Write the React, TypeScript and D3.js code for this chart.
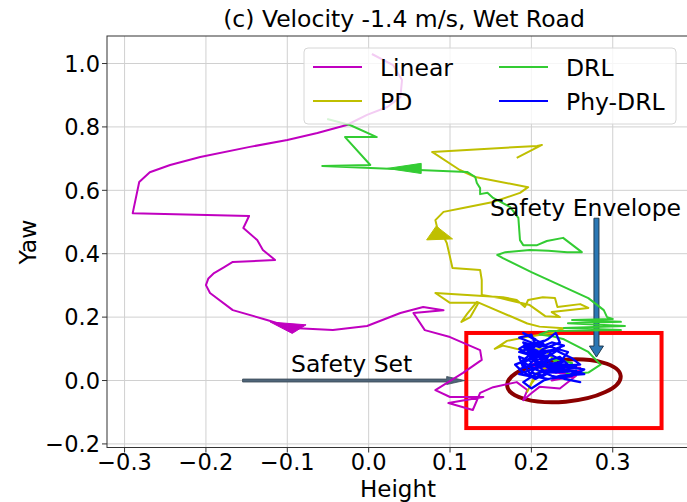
import React from "react";
import * as d3 from "d3";

type Pt = [number, number];

const W = 687;
const H = 502;
const plot = { left: 107, top: 36, right: 688, bottom: 447.5 };

const xTicks = [-0.3, -0.2, -0.1, 0.0, 0.1, 0.2, 0.3];
const xTickLabels = ["\u22120.3", "\u22120.2", "\u22120.1", "0.0", "0.1", "0.2", "0.3"];
const yTicks = [-0.2, 0.0, 0.2, 0.4, 0.6, 0.8, 1.0];
const yTickLabels = ["\u22120.2", "0.0", "0.2", "0.4", "0.6", "0.8", "1.0"];

// trajectories (height, yaw), in time order from the initial state
const linear: Pt[] = [
  [0.22, 0.07], [0.2, 0.05], [0.26, 0.04], [0.21, 0.03], [0.25, 0.02], [0.2, 0.045],
  [0.26, 0.03], [0.225, 0.0], [0.255, 0.015], [0.235, -0.025], [0.21, -0.02], [0.2, -0.04],
  [0.19, -0.062], [0.195, -0.03], [0.182, -0.005],
  [0.153, -0.021], [0.137, -0.039], [0.128, -0.093], [0.098, -0.071], [0.141, -0.052], [0.1, -0.052],
  [0.082, -0.03], [0.116, 0.024], [0.139, 0.065], [0.137, 0.096], [0.1, 0.137], [0.069, 0.159],
  [0.055, 0.213], [0.092, 0.222], [0.067, 0.232], [0.039, 0.213], [-0.002, 0.172], [-0.044, 0.159],
  [-0.093, 0.166], [-0.125, 0.191], [-0.167, 0.222], [-0.195, 0.276], [-0.2, 0.301], [-0.197, 0.322],
  [-0.19, 0.339], [-0.178, 0.357], [-0.167, 0.374], [-0.115, 0.38], [-0.13, 0.412], [-0.137, 0.443],
  [-0.154, 0.481], [-0.147, 0.519], [-0.29, 0.528], [-0.282, 0.626], [-0.269, 0.657], [-0.244, 0.68],
  [-0.207, 0.705], [-0.146, 0.737], [-0.1, 0.759], [-0.063, 0.781], [-0.027, 0.806], [-0.002, 0.838],
  [0.023, 0.863], [0.039, 0.894], [0.041, 0.948], [0.03, 0.995], [0.004, 1.03],
];

const pd: Pt[] = [
  [0.215, 0.04], [0.2, -0.01], [0.195, -0.035], [0.205, 0.02], [0.23, 0.06], [0.215, 0.1],
  [0.19, 0.095], [0.165, 0.11], [0.155, 0.1], [0.17, 0.125], [0.2, 0.14], [0.225, 0.15],
  [0.24, 0.165], [0.21, 0.17], [0.195, 0.18], [0.133, 0.248], [0.121, 0.21], [0.114, 0.185],
  [0.125, 0.2], [0.135, 0.245], [0.1, 0.245], [0.082, 0.276], [0.165, 0.263], [0.182, 0.254],
  [0.192, 0.232], [0.196, 0.254], [0.214, 0.263], [0.229, 0.26], [0.232, 0.232], [0.26, 0.241],
  [0.27, 0.229], [0.225, 0.216], [0.235, 0.2], [0.217, 0.203], [0.198, 0.238], [0.162, 0.26],
  [0.139, 0.27], [0.139, 0.317], [0.137, 0.349], [0.103, 0.355], [0.098, 0.412], [0.096, 0.434],
  [0.09, 0.465], [0.084, 0.484], [0.082, 0.506], [0.092, 0.532], [0.116, 0.544], [0.153, 0.563],
  [0.186, 0.592], [0.196, 0.61], [0.131, 0.642], [0.112, 0.664], [0.078, 0.721], [0.207, 0.74],
  [0.213, 0.743], [0.182, 0.702],
];

const drl: Pt[] = [
  [0.215, 0.05], [0.235, 0.03], [0.25, 0.055], [0.225, 0.07], [0.245, 0.02], [0.27, 0.025],
  [0.285, 0.05], [0.27, 0.09], [0.24, 0.13], [0.225, 0.14], [0.21, 0.145], [0.221, 0.156],
  [0.31, 0.159], [0.24, 0.166], [0.315, 0.172], [0.245, 0.181], [0.31, 0.185], [0.25, 0.191],
  [0.3, 0.194], [0.293, 0.2], [0.289, 0.222], [0.27, 0.26], [0.235, 0.301], [0.2, 0.342],
  [0.165, 0.386], [0.158, 0.396], [0.168, 0.405], [0.198, 0.412], [0.221, 0.409], [0.244, 0.405],
  [0.262, 0.405], [0.239, 0.45], [0.219, 0.44], [0.207, 0.427], [0.19, 0.427], [0.186, 0.443],
  [0.184, 0.513], [0.174, 0.547], [0.153, 0.576], [0.146, 0.592], [0.137, 0.588], [0.137, 0.607],
  [0.133, 0.623], [0.131, 0.642], [0.121, 0.658], [-0.057, 0.677], [0.002, 0.68], [-0.029, 0.768],
  [0.01, 0.768], [-0.023, 0.806], [-0.051, 0.825],
];

const phyDrl: Pt[] = [
  [0.205, 0.04], [0.215, 0.07], [0.19, 0.09], [0.2, 0.12], [0.185, 0.135], [0.2, 0.145],
  [0.205, 0.11], [0.22, 0.13], [0.23, 0.15], [0.235, 0.12], [0.215, 0.1], [0.195, 0.065],
  [0.18, 0.05], [0.19, 0.025], [0.21, 0.045], [0.24, 0.06], [0.225, 0.08], [0.2, 0.075],
  [0.185, 0.1], [0.195, 0.115], [0.225, 0.105], [0.245, 0.09], [0.23, 0.04], [0.205, 0.02],
  [0.19, -0.005], [0.2, -0.025], [0.215, 0.0], [0.235, 0.015], [0.265, 0.02], [0.245, 0.035],
  [0.21, 0.03], [0.188, 0.06], [0.2, 0.085], [0.23, 0.095], [0.25, 0.07], [0.26, 0.05],
  [0.225, 0.045], [0.2, 0.05], [0.185, 0.035], [0.205, 0.005], [0.22, 0.025], [0.255, 0.03],
  [0.24, 0.005], [0.26, -0.005], [0.225, 0.015], [0.195, 0.045], [0.21, 0.08], [0.19, 0.105],
  [0.215, 0.125], [0.2, 0.1], [0.22, 0.06], [0.24, 0.04], [0.215, 0.03], [0.195, 0.085],
  [0.205, 0.13], [0.19, 0.15], [0.2, 0.135], [0.215, 0.115], [0.195, 0.11], [0.21, 0.09],
  [0.235, 0.1], [0.22, 0.075], [0.2, 0.06], [0.185, 0.075], [0.19, 0.04], [0.215, 0.06],
  [0.23, 0.03], [0.205, 0.01], [0.185, 0.02], [0.2, 0.035], [0.23, 0.055], [0.255, 0.045],
  [0.23, 0.025], [0.205, 0.065], [0.19, 0.12], [0.21, 0.105], [0.225, 0.12], [0.24, 0.11],
  [0.22, 0.09], [0.195, 0.095], [0.2, 0.07], [0.225, 0.035], [0.245, 0.05], [0.235, 0.075],
  [0.21, 0.055], [0.2, 0.025], [0.215, 0.015], [0.235, 0.045], [0.265, 0.035], [0.25, 0.015],
  [0.22, 0.005], [0.2, 0.015], [0.19, 0.055], [0.21, 0.085], [0.2, 0.105], [0.185, 0.09],
  [0.205, 0.075], [0.225, 0.095], [0.215, 0.05],
];

const seriesNames = ["Linear", "PD", "DRL", "Phy-DRL"];
const seriesColors = ["#c000c0", "#bfbf00", "#33cc33", "#0000ff"];
const seriesData = [linear, pd, drl, phyDrl];

// direction markers on the trajectories: tip point and heading
const markerSeries = [0, 1, 2];
const markerTips: Pt[] = [[-0.121, 0.1845], [0.083, 0.487], [0.0226, 0.669]];
const markerDirs: Pt[] = [[-0.035, 0.022], [-0.1, 1], [-1, 0]];
const headLength = 0.042;
const headWidth = 0.032;

// safety set box and safety envelope ellipse
const safetySetX: Pt = [0.12, 0.36];
const safetySetY: Pt = [-0.15, 0.15];
const envelopeCenter: Pt = [0.24, -0.001];
const envelopeRadii: Pt = [0.07, 0.066];

const setArrowFrom: Pt = [-0.155, 0.0];
const setArrowTo: Pt = [0.118, 0.0];
const envArrowFrom: Pt = [0.28, 0.512];
const envArrowTo: Pt = [0.28, 0.074];

const x = d3.scaleLinear().domain([-0.3216, 0.3925]).range([plot.left, plot.right]);
const y = d3.scaleLinear().domain([-0.2113, 1.0868]).range([plot.bottom, plot.top]);

const line = d3
  .line<Pt>()
  .x((d) => x(d[0]))
  .y((d) => y(d[1]));

function headPoly(tip: Pt, dir: Pt) {
  const n = Math.hypot(dir[0], dir[1]);
  const ux = dir[0] / n;
  const uy = dir[1] / n;
  const bx = tip[0] - ux * headLength;
  const by = tip[1] - uy * headLength;
  const px = (-uy * headWidth) / 2;
  const py = (ux * headWidth) / 2;
  const pts: Pt[] = [tip, [bx + px, by + py], [bx - px, by - py]];
  return pts.map((p) => `${x(p[0])},${y(p[1])}`).join(" ");
}

// block arrow in pixel space between two data points
function blockArrow(from: Pt, to: Pt, shaft: number, hw: number, hl: number) {
  const x0 = x(from[0]), y0 = y(from[1]);
  const x1 = x(to[0]), y1 = y(to[1]);
  const len = Math.hypot(x1 - x0, y1 - y0);
  const ux = (x1 - x0) / len, uy = (y1 - y0) / len;
  const nx = -uy, ny = ux;
  const bx = x1 - ux * hl, by = y1 - uy * hl;
  const p = [
    [x0 + (nx * shaft) / 2, y0 + (ny * shaft) / 2],
    [bx + (nx * shaft) / 2, by + (ny * shaft) / 2],
    [bx + (nx * hw) / 2, by + (ny * hw) / 2],
    [x1, y1],
    [bx - (nx * hw) / 2, by - (ny * hw) / 2],
    [bx - (nx * shaft) / 2, by - (ny * shaft) / 2],
    [x0 - (nx * shaft) / 2, y0 - (ny * shaft) / 2],
  ];
  return p.map((q) => q.join(",")).join(" ");
}

const font = "DejaVu Sans";
const fs = 23.5;
const tickFs = 22.5;

export default function App() {
  const ex = x(envelopeCenter[0]);
  const ey = y(envelopeCenter[1]);
  const erx = x(envelopeCenter[0] + envelopeRadii[0]) - ex;
  const ery = ey - y(envelopeCenter[1] + envelopeRadii[1]);

  return (
    <svg
      width={W}
      height={H}
      style={{ position: "absolute", left: 0, top: 0, background: "#fff" }}
      fontFamily={font}
    >
      <defs>
        <clipPath id="plotclip">
          <rect x={plot.left} y={plot.top} width={plot.right - plot.left} height={plot.bottom - plot.top} />
        </clipPath>
      </defs>
      <rect x={0} y={0} width={W} height={H} fill="#fff" />

      {/* grid */}
      <g stroke="#d0d0d0" strokeWidth={1}>
        {xTicks.map((t) => (
          <line key={"gx" + t} x1={x(t)} x2={x(t)} y1={plot.top} y2={plot.bottom} />
        ))}
        {yTicks.map((t) => (
          <line key={"gy" + t} x1={plot.left} x2={plot.right} y1={y(t)} y2={y(t)} />
        ))}
      </g>

      <g clipPath="url(#plotclip)">
        {/* safety set and envelope */}
        <rect
          x={x(safetySetX[0])}
          y={y(safetySetY[1])}
          width={x(safetySetX[1]) - x(safetySetX[0])}
          height={y(safetySetY[0]) - y(safetySetY[1])}
          fill="none"
          stroke="#ff0000"
          strokeWidth={4}
        />
        <ellipse
          cx={ex}
          cy={ey}
          rx={erx}
          ry={ery}
          fill="none"
          stroke="#8b0000"
          strokeWidth={4}
          transform={`rotate(-5, ${ex}, ${ey})`}
        />

        {/* annotation arrows */}
        <polygon points={blockArrow(setArrowFrom, setArrowTo, 3, 8, 18)} fill="#4f6579" stroke="#3b4a57" strokeWidth={0.8} />
        <polygon points={blockArrow(envArrowFrom, envArrowTo, 5, 14, 11)} fill="#2a77b4" stroke="#1f3a50" strokeWidth={1} />

        {/* trajectories */}
        {seriesData.map((d, i) => (
          <path
            key={seriesNames[i]}
            d={line(d) || ""}
            fill="none"
            stroke={seriesColors[i]}
            strokeWidth={i === 3 ? 2.3 : 2}
            strokeLinejoin="round"
          />
        ))}
        {markerSeries.map((s, i) => (
          <polygon key={"m" + i} points={headPoly(markerTips[i], markerDirs[i])} fill={seriesColors[s]} stroke={seriesColors[s]} strokeWidth={1} />
        ))}
      </g>

      {/* annotation text */}
      <text x={291} y={372} fontSize={fs} fill="#000">Safety Set</text>
      <text x={490} y={216} fontSize={fs} fill="#000">Safety Envelope</text>

      {/* spines */}
      <rect
        x={plot.left}
        y={plot.top}
        width={plot.right - plot.left}
        height={plot.bottom - plot.top}
        fill="none"
        stroke="#333"
        strokeWidth={1}
      />

      {/* ticks */}
      <g stroke="#333" strokeWidth={1}>
        {xTicks.map((t) => (
          <line key={"tx" + t} x1={x(t)} x2={x(t)} y1={plot.bottom} y2={plot.bottom + 5} />
        ))}
        {yTicks.map((t) => (
          <line key={"ty" + t} x1={plot.left - 5} x2={plot.left} y1={y(t)} y2={y(t)} />
        ))}
      </g>
      {xTicks.map((t, i) => (
        <text key={"lx" + t} x={x(t)} y={469.5} fontSize={tickFs} textAnchor="middle" fill="#000">
          {xTickLabels[i]}
        </text>
      ))}
      {yTicks.map((t, i) => (
        <text key={"ly" + t} x={100} y={y(t) + 8.2} fontSize={tickFs} textAnchor="end" fill="#000">
          {yTickLabels[i]}
        </text>
      ))}

      {/* labels and title */}
      <text x={398} y={496.5} fontSize={23} textAnchor="middle" fill="#000">Height</text>
      <text transform="translate(36,242) rotate(-90)" fontSize={fs} textAnchor="middle" fill="#000">Yaw</text>
      <text x={404} y={27} fontSize={fs} textAnchor="middle" fill="#000">(c) Velocity -1.4 m/s, Wet Road</text>

      {/* legend */}
      <rect x={304} y={48} width={372} height={76} rx={4} fill="#fff" fillOpacity={0.8} stroke="#d6d6d6" strokeWidth={1} />
      {seriesNames.map((n, i) => {
        const col = Math.floor(i / 2);
        const row = i % 2;
        const lx = col === 0 ? 313 : 499;
        const ly = row === 0 ? 67 : 101;
        return (
          <g key={"lg" + n}>
            <line x1={lx} x2={lx + 49} y1={ly} y2={ly} stroke={seriesColors[i]} strokeWidth={2} />
            <text x={lx + 67} y={ly + 8.5} fontSize={fs} fill="#000">{n}</text>
          </g>
        );
      })}
    </svg>
  );
}
